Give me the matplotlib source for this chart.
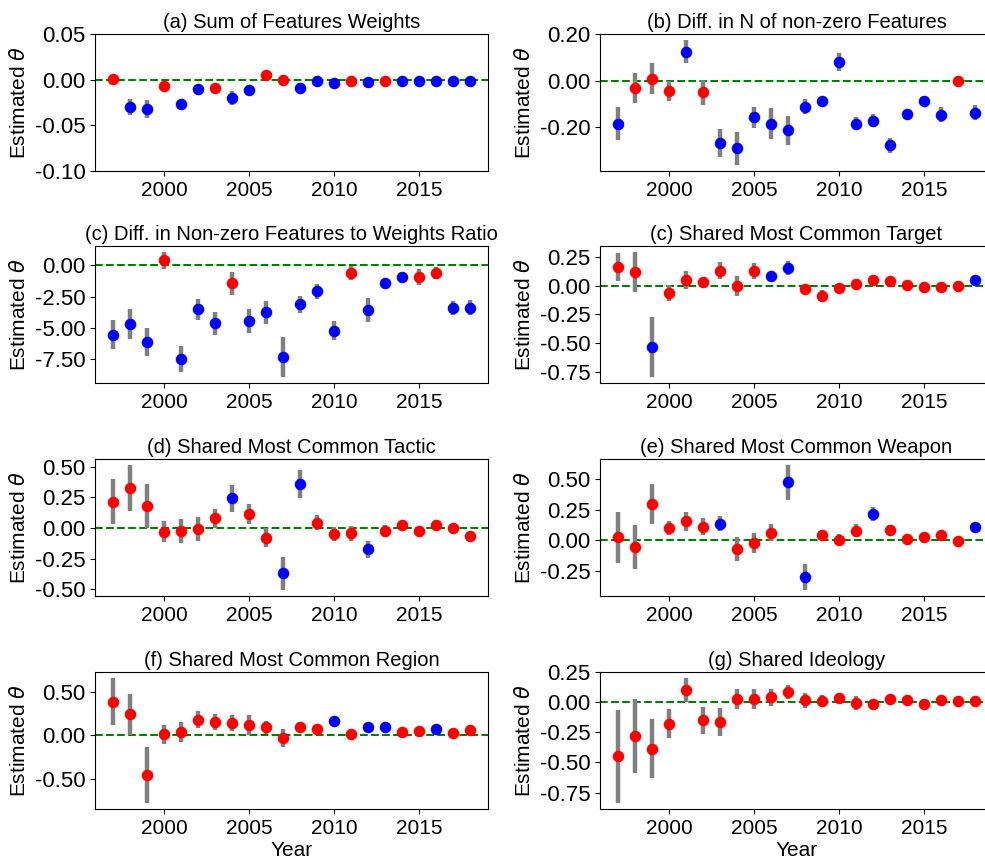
import numpy as np
import matplotlib.pyplot as plt

plt.rcParams['font.family'] = ['Liberation Sans', 'DejaVu Sans']
plt.rcParams['mathtext.fontset'] = 'dejavusans'

years = np.arange(1997, 2019)

# (a) Sum of Features Weights
a_est = [0.001, -0.030, -0.032, -0.0065, -0.027, -0.010, -0.0087, -0.0205, -0.011, 0.0047, 0.0,
         -0.009, -0.002, -0.004, -0.001, -0.0025, -0.002, -0.001, -0.001, -0.0015, -0.0015, -0.0015]
a_err = [0.001, 0.0085, 0.010, 0.002, 0.002, 0.002, 0.002, 0.0077, 0.002, 0.003, 0.002,
         0.002, 0.001, 0.001, 0.001, 0.001, 0.001, 0.001, 0.001, 0.001, 0.001, 0.001]
a_sig = [0, 1, 1, 0, 1, 1, 0, 1, 1, 0, 0, 1, 1, 1, 0, 1, 0, 1, 1, 1, 1, 1]

# (b) Diff. in N of non-zero Features
b_est = [-0.187, -0.032, 0.007, -0.045, 0.125, -0.052, -0.271, -0.294, -0.159, -0.187, -0.216,
         -0.113, -0.088, 0.081, -0.187, -0.174, -0.281, -0.146, -0.091, -0.149, -0.003, -0.139]
b_err = [0.071, 0.064, 0.067, 0.043, 0.050, 0.054, 0.061, 0.072, 0.046, 0.067, 0.064,
         0.032, 0.015, 0.039, 0.029, 0.030, 0.033, 0.012, 0.012, 0.032, 0.008, 0.033]
b_sig = [1, 0, 0, 0, 1, 0, 1, 1, 1, 1, 1, 1, 1, 1, 1, 1, 1, 1, 1, 1, 0, 1]

# (c) Diff. in Non-zero Features to Weights Ratio
c_est = [-5.53, -4.68, -6.12, 0.40, -7.45, -3.51, -4.63, -1.44, -4.41, -3.75, -7.29,
         -3.11, -2.05, -5.21, -0.61, -3.54, -1.44, -0.96, -0.93, -0.61, -3.40, -3.38]
c_err = [1.16, 1.21, 1.12, 0.65, 1.05, 0.82, 0.93, 0.90, 0.96, 0.89, 1.60,
         0.69, 0.60, 0.78, 0.56, 0.94, 0.20, 0.30, 0.62, 0.50, 0.55, 0.60]
c_sig = [1, 1, 1, 0, 1, 1, 1, 0, 1, 1, 1, 1, 1, 1, 0, 1, 1, 1, 0, 0, 1, 1]

# (c) Shared Most Common Target
t_est = [0.163, 0.116, -0.532, -0.061, 0.049, 0.032, 0.131, 0.0, 0.128, 0.087, 0.151,
         -0.029, -0.087, -0.020, 0.015, 0.047, 0.041, 0.006, -0.012, -0.009, 0.0, 0.049]
t_err = [0.124, 0.174, 0.259, 0.070, 0.074, 0.020, 0.074, 0.087, 0.070, 0.020, 0.060,
         0.015, 0.050, 0.015, 0.040, 0.015, 0.015, 0.012, 0.010, 0.010, 0.010, 0.012]
t_sig = [0, 0, 1, 0, 0, 0, 0, 0, 0, 1, 1, 0, 0, 0, 0, 0, 0, 0, 0, 0, 0, 1]

# (d) Shared Most Common Tactic
d_est = [0.215, 0.323, 0.182, -0.030, -0.024, -0.008, 0.079, 0.242, 0.117, -0.079, -0.370,
         0.359, 0.043, -0.049, -0.043, -0.174, -0.022, 0.022, -0.024, 0.022, 0.0, -0.068]
d_err = [0.183, 0.188, 0.178, 0.086, 0.100, 0.094, 0.077, 0.109, 0.082, 0.079, 0.133,
         0.116, 0.060, 0.057, 0.063, 0.068, 0.048, 0.020, 0.020, 0.020, 0.015, 0.030]
d_sig = [0, 0, 0, 0, 0, 0, 0, 1, 0, 0, 1, 1, 0, 0, 0, 1, 0, 0, 0, 0, 0, 0]

# (e) Shared Most Common Weapon
e_est = [0.025, -0.058, 0.297, 0.102, 0.157, 0.110, 0.137, -0.074, -0.022, 0.063, 0.475,
         -0.300, 0.041, 0.005, 0.080, 0.217, 0.085, 0.008, 0.027, 0.047, -0.003, 0.113]
e_err = [0.209, 0.181, 0.162, 0.059, 0.078, 0.069, 0.062, 0.098, 0.084, 0.070, 0.141,
         0.106, 0.025, 0.045, 0.050, 0.056, 0.044, 0.015, 0.015, 0.015, 0.012, 0.015]
e_sig = [0, 0, 0, 0, 0, 0, 1, 0, 0, 0, 1, 1, 0, 0, 0, 1, 0, 0, 0, 0, 0, 1]

# (f) Shared Most Common Region
f_est = [0.388, 0.242, -0.454, 0.012, 0.038, 0.181, 0.154, 0.146, 0.119, 0.096, -0.031,
         0.100, 0.073, 0.169, 0.019, 0.092, 0.092, 0.042, 0.050, 0.073, 0.027, 0.065]
f_err = [0.270, 0.240, 0.320, 0.110, 0.115, 0.098, 0.090, 0.092, 0.115, 0.075, 0.100,
         0.060, 0.030, 0.020, 0.020, 0.020, 0.020, 0.020, 0.020, 0.020, 0.020, 0.020]
f_sig = [0, 0, 0, 0, 0, 0, 0, 0, 0, 0, 0, 0, 0, 1, 0, 1, 1, 0, 0, 1, 0, 0]

# (g) Shared Ideology
g_est = [-0.450, -0.282, -0.387, -0.177, 0.099, -0.152, -0.163, 0.028, 0.028, 0.039, 0.083,
         0.014, 0.008, 0.036, -0.006, -0.014, 0.030, 0.022, -0.019, 0.014, 0.008, 0.008]
g_err = [0.384, 0.308, 0.245, 0.124, 0.098, 0.112, 0.116, 0.081, 0.081, 0.070, 0.058,
         0.062, 0.050, 0.020, 0.057, 0.020, 0.020, 0.020, 0.020, 0.020, 0.015, 0.015]
g_sig = [0] * 22

panels = [
    ("(a) Sum of Features Weights", a_est, a_err, a_sig, [0.05, 0.0, -0.05, -0.10]),
    ("(b) Diff. in N of non-zero Features", b_est, b_err, b_sig, [0.2, 0.0, -0.2]),
    ("(c) Diff. in Non-zero Features to Weights Ratio", c_est, c_err, c_sig, [0.0, -2.5, -5.0, -7.5]),
    ("(c) Shared Most Common Target", t_est, t_err, t_sig, [0.25, 0.0, -0.25, -0.5, -0.75]),
    ("(d) Shared Most Common Tactic", d_est, d_err, d_sig, [0.5, 0.25, 0.0, -0.25, -0.5]),
    ("(e) Shared Most Common Weapon", e_est, e_err, e_sig, [0.5, 0.25, 0.0, -0.25]),
    ("(f) Shared Most Common Region", f_est, f_err, f_sig, [0.5, 0.0, -0.5]),
    ("(g) Shared Ideology", g_est, g_err, g_sig, [0.25, 0.0, -0.25, -0.5, -0.75]),
]

W, H = 985, 863
fig = plt.figure(figsize=(W / 100, H / 100), dpi=100)

lefts = [95, 600]
bottoms = [171, 383, 596, 809]
aw, ah = 393, 137

for i, (title, est, err, sig, ticks) in enumerate(panels):
    row, col = divmod(i, 2)
    ax = fig.add_axes([lefts[col] / W, 1 - bottoms[row] / H, aw / W, ah / H])
    est = np.array(est)
    err = np.array(err)
    sig = np.array(sig, dtype=bool)
    ax.errorbar(years, est, yerr=err, fmt='none', ecolor='grey', elinewidth=3.2, capsize=0, zorder=2)
    ax.axhline(0, color='green', linestyle='--', linewidth=1.5, zorder=1)
    ax.plot(years[~sig], est[~sig], 'o', color='red', markersize=7.3, zorder=3)
    ax.plot(years[sig], est[sig], 'o', color='blue', markersize=7.3, zorder=3)
    if i == 0:
        ax.set_ylim(-0.10, 0.05)
    ax.set_yticks(ticks)
    ax.set_yticklabels(['%.2f' % t for t in ticks])
    ax.set_xticks([2000, 2005, 2010, 2015])
    ax.set_title(title, fontsize=14.5, pad=4)
    ax.set_ylabel(r'Estimated $\theta$', fontsize=15)
    ax.tick_params(axis='x', labelsize=15, length=3.5)
    ax.tick_params(axis='y', labelsize=16, length=3.5)
    if row == 3:
        ax.set_xlabel('Year', fontsize=15, labelpad=2)

fig.savefig('out.png', dpi=100)
